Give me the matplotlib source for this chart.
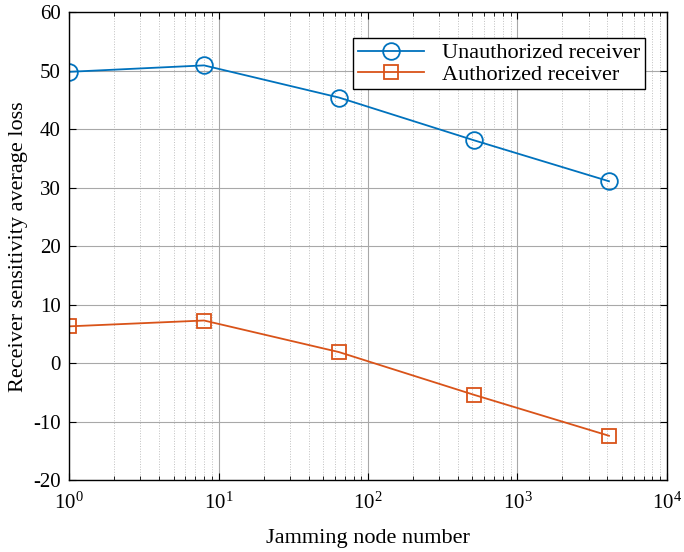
import matplotlib.pyplot as plt
import numpy as np

plt.rcParams['font.family'] = 'Liberation Serif'
plt.rcParams['mathtext.fontset'] = 'custom'
plt.rcParams['mathtext.rm'] = 'Liberation Serif'
plt.rcParams['mathtext.it'] = 'Liberation Serif'
plt.rcParams['axes.unicode_minus'] = False

nodes = [1, 8, 64, 512, 4096]
unauth = [49.8, 50.9, 45.4, 38.1, 31.1]
auth = [6.3, 7.3, 1.9, -5.4, -12.4]

fig = plt.figure(figsize=(6.84, 5.52), dpi=100)
ax = fig.add_axes([0.101, 0.130, 0.874, 0.848])

ax.plot(nodes, unauth, '-o', color='#0072BD', lw=1.3, ms=12, mfc='none', mew=1.3,
        label='Unauthorized receiver')
ax.plot(nodes, auth, '-s', color='#D95319', lw=1.3, ms=9.5, mfc='none', mew=1.3,
        label='Authorized receiver')

ax.set_xscale('log')
ax.set_xlim(1, 1e4)
ax.set_ylim(-20, 60)
ax.set_yticks(np.arange(-20, 61, 10))
ax.set_xticks([1, 10, 100, 1000, 10000])
ax.set_xticklabels([r'$10^{%d}$' % i for i in range(5)])

ax.grid(True, which='major', color='#a8a8a8', lw=0.8, ls='-')
ax.grid(True, which='minor', color='#c0c0c0', lw=0.7, ls=':')
ax.tick_params(which='both', direction='in', top=True, right=True, labelsize=15)
ax.tick_params(which='major', length=5, pad=6)
ax.tick_params(axis='x', which='major', pad=9)
ax.tick_params(which='minor', length=3)
for s in ax.spines.values():
    s.set_linewidth(1.0)

ax.set_xlabel('Jamming node number', fontsize=16, labelpad=11)
ax.set_ylabel('Receiver sensitivity average loss', fontsize=16)

leg = ax.legend(loc='upper right', bbox_to_anchor=(0.963, 0.944), fontsize=16,
                fancybox=False, framealpha=1, edgecolor='black',
                borderpad=0.2, labelspacing=0.05, handlelength=3.0,
                handletextpad=0.8, borderaxespad=0)
leg.get_frame().set_linewidth(1.0)

plt.savefig('out.png', dpi=100)
